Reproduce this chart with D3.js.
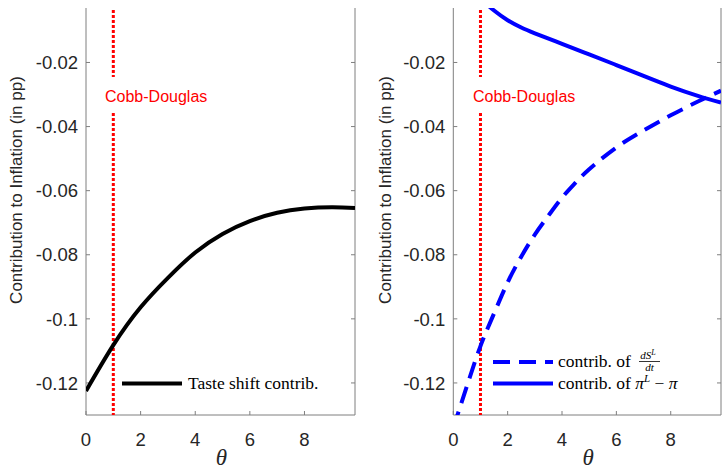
<!DOCTYPE html>
<html>
<head>
<meta charset="utf-8">
<script src="https://cdn.jsdelivr.net/npm/d3@7"></script>
<style>
  body { margin: 0; background: #fff; }
  svg { display: block; }
</style>
</head>
<body>
<svg id="chart" width="722" height="471"></svg>
<script>
// values
const thetaTaste = [0, 1, 2, 3, 4, 5, 6, 7, 8, 9, 9.85];
const tasteShift = [-0.1225, -0.1082, -0.0964, -0.0872, -0.0793, -0.0735, -0.0695, -0.0669, -0.0656, -0.0652, -0.0654];

const thetaDS = [0, 0.5, 1, 1.5, 2, 2.5, 3, 3.5, 4, 4.5, 5, 6, 7, 8, 9, 9.85];
const dsContrib = [-0.134, -0.121, -0.1085, -0.0983, -0.0886, -0.0806, -0.0737, -0.0678, -0.0622, -0.0575, -0.0533, -0.0465, -0.0412, -0.0365, -0.0322, -0.0288];

const thetaPi = [0, 0.5, 1, 1.5, 2, 2.5, 3, 4, 5, 6, 7, 8, 9, 9.85];
const piContrib = [0.0105, 0.0045, 0.0, -0.0038, -0.0068, -0.0091, -0.0109, -0.0142, -0.0175, -0.0208, -0.0242, -0.0275, -0.0304, -0.0325];

const xTicks = [0, 2, 4, 6, 8];
const yTicks = [-0.12, -0.1, -0.08, -0.06, -0.04, -0.02];
const cobbDouglas = 1;

const svg = d3.select('#chart');
const plotTop = 8, plotBottom = 415;
const axisColor = '#262626';
const tickFont = '"Liberation Sans", Arial, sans-serif';
const serif = '"Liberation Serif", "Times New Roman", serif';

function drawPanel(id, left, right, labelX, textX) {
  const x = d3.scaleLinear().domain([0, 9.85]).range([left, right]);
  const y = d3.scaleLinear().domain([-0.13, -0.003]).range([plotBottom, plotTop]);
  const g = svg.append('g');

  g.append('clipPath').attr('id', 'clip-' + id)
    .append('rect')
    .attr('x', left).attr('y', plotTop)
    .attr('width', right - left).attr('height', plotBottom - plotTop);

  // box lines (left, right, bottom)
  g.append('path')
    .attr('d', `M${left},${plotTop}V${plotBottom}H${right}V${plotTop}`)
    .attr('fill', 'none')
    .attr('stroke', '#7f7f7f')
    .attr('stroke-width', 1);

  // y ticks + labels
  yTicks.forEach(t => {
    g.append('line')
      .attr('x1', left).attr('x2', left + 4)
      .attr('y1', y(t)).attr('y2', y(t))
      .attr('stroke', '#7f7f7f');
    g.append('line')
      .attr('x1', right).attr('x2', right - 4)
      .attr('y1', y(t)).attr('y2', y(t))
      .attr('stroke', '#7f7f7f');
    g.append('text')
      .attr('x', left - 8).attr('y', y(t))
      .attr('dy', '0.36em')
      .attr('text-anchor', 'end')
      .attr('font-family', tickFont)
      .attr('font-size', 18.5)
      .attr('fill', axisColor)
      .text(String(+t.toFixed(2)));
  });

  // x ticks + labels
  xTicks.forEach(t => {
    g.append('line')
      .attr('x1', x(t)).attr('x2', x(t))
      .attr('y1', plotBottom).attr('y2', plotBottom - 4)
      .attr('stroke', '#7f7f7f');
    g.append('text')
      .attr('x', x(t)).attr('y', 446)
      .attr('text-anchor', 'middle')
      .attr('font-family', tickFont)
      .attr('font-size', 18.5)
      .attr('fill', axisColor)
      .text(t);
  });

  // axis labels
  g.append('text')
    .attr('x', (left + right) / 2 + 1).attr('y', 465)
    .attr('text-anchor', 'middle')
    .attr('font-family', serif)
    .attr('font-style', 'italic')
    .attr('font-size', 23)
    .attr('fill', axisColor)
    .text('θ');
  g.append('text')
    .attr('transform', `translate(${labelX},190) rotate(-90)`)
    .attr('text-anchor', 'middle')
    .attr('font-family', tickFont)
    .attr('font-size', 17)
    .attr('fill', axisColor)
    .text('Contribution to Inflation (in pp)');

  // Cobb-Douglas marker
  const cx = x(cobbDouglas);
  [[plotTop + 2, 77], [113, plotBottom]].forEach(([a, b]) => {
    g.append('line')
      .attr('x1', cx).attr('x2', cx)
      .attr('y1', a).attr('y2', b)
      .attr('stroke', '#ff0000')
      .attr('stroke-width', 3)
      .attr('stroke-dasharray', '3,2');
  });
  g.append('text')
    .attr('x', textX).attr('y', 102)
    .attr('font-family', tickFont)
    .attr('font-size', 16)
    .attr('fill', '#ff0000')
    .text('Cobb-Douglas');

  return { g, x, y };
}

const line = (xs, ys, sx, sy) => d3.line()
  .x((d, i) => sx(xs[i]))
  .y(d => sy(d))
  .curve(d3.curveNatural)(ys);

// ---- left panel
const L = drawPanel('l', 86, 355, 22, 105);

L.g.append('path')
  .attr('clip-path', 'url(#clip-l)')
  .attr('d', line(thetaTaste, tasteShift, L.x, L.y))
  .attr('fill', 'none')
  .attr('stroke', '#000')
  .attr('stroke-width', 4);

L.g.append('line')
  .attr('x1', 122).attr('x2', 182)
  .attr('y1', 383.5).attr('y2', 383.5)
  .attr('stroke', '#000').attr('stroke-width', 4);
L.g.append('text')
  .attr('x', 188).attr('y', 389)
  .attr('font-family', serif)
  .attr('font-size', 17.5)
  .attr('fill', '#000')
  .text('Taste shift contrib.');

// ---- right panel
const R = drawPanel('r', 453.3, 721, 391, 473);

R.g.append('path')
  .attr('clip-path', 'url(#clip-r)')
  .attr('d', line(thetaDS, dsContrib, R.x, R.y))
  .attr('fill', 'none')
  .attr('stroke', '#0000ff')
  .attr('stroke-width', 4)
  .attr('stroke-dasharray', '17,9');

R.g.append('path')
  .attr('clip-path', 'url(#clip-r)')
  .attr('d', line(thetaPi, piContrib, R.x, R.y))
  .attr('fill', 'none')
  .attr('stroke', '#0000ff')
  .attr('stroke-width', 4);

// legend
R.g.append('line')
  .attr('x1', 493).attr('x2', 553)
  .attr('y1', 362).attr('y2', 362)
  .attr('stroke', '#0000ff').attr('stroke-width', 4)
  .attr('stroke-dasharray', '17,9');
R.g.append('line')
  .attr('x1', 493).attr('x2', 553)
  .attr('y1', 383.5).attr('y2', 383.5)
  .attr('stroke', '#0000ff').attr('stroke-width', 4);

R.g.append('text')
  .attr('x', 558).attr('y', 367)
  .attr('font-family', serif).attr('font-size', 17.5)
  .text('contrib. of');
// fraction dS^L / dt
const fr = R.g.append('g').attr('font-family', serif).attr('font-size', 11).attr('font-style', 'italic');
fr.append('text').attr('x', 648).attr('y', 359).attr('text-anchor', 'middle')
  .html('dS<tspan font-size="8" dy="-4">L</tspan>');
fr.append('line').attr('x1', 639).attr('x2', 660).attr('y1', 361.5).attr('y2', 361.5)
  .attr('stroke', '#000').attr('stroke-width', 0.8);
fr.append('text').attr('x', 649.5).attr('y', 370.5).attr('text-anchor', 'middle').text('dt');

const t2 = R.g.append('text')
  .attr('x', 558).attr('y', 389)
  .attr('font-family', serif).attr('font-size', 17.5);
t2.append('tspan').text('contrib. of ');
t2.append('tspan').attr('font-style', 'italic').text('π');
t2.append('tspan').attr('font-style', 'italic').attr('font-size', 11).attr('dy', -7).text('L');
t2.append('tspan').attr('dy', 7).text(' − ');
t2.append('tspan').attr('font-style', 'italic').text('π');
</script>
</body>
</html>
